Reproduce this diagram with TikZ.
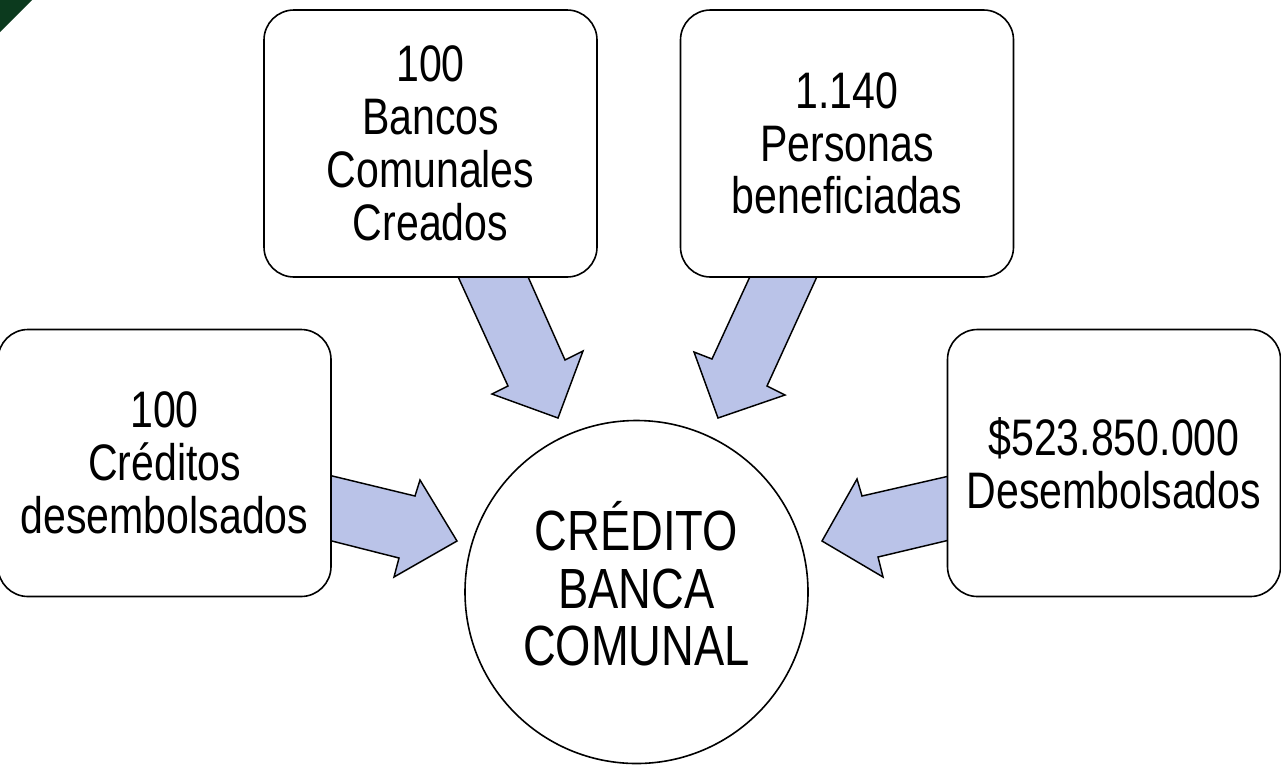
\documentclass[tikz,border=0pt]{standalone}
\usepackage{fontspec}
\setmainfont[FakeStretch=0.8]{Liberation Sans}
\definecolor{arrowfill}{RGB}{186,195,232}
\definecolor{cornergreen}{RGB}{12,58,30}
\tikzset{
  infobox/.style={draw=black, line width=1.2pt, fill=white, rounded corners=22.5pt,
    minimum width=249.75pt, minimum height=200.25pt, inner sep=0pt, outer sep=0pt,
    align=center, font=\fontsize{38.5}{39.6}\selectfont},
  hub/.style={draw=black, line width=1.2pt, fill=white, circle, minimum size=257.25pt,
    inner sep=0pt, outer sep=0pt},
  hubtext/.style={align=center, inner sep=0pt, font=\fontsize{42.5}{43}\selectfont},
  blockarrow/.style={draw=black, line width=1.1pt, fill=arrowfill, line join=miter}
}
\begin{document}
\begin{tikzpicture}[x=0.75pt,y=-0.75pt]
\useasboundingbox (0,0) rectangle (1281,765);
\fill[cornergreen] (0,0) -- (32,0) -- (0,32) -- cycle;
% block arrows (drawn first, boxes on top)
\draw[blockarrow] (455,270) -- (508,386) -- (492,394) -- (558,418) -- (583,351) -- (565,360) -- (525,270) -- cycle;
\draw[blockarrow] (753,270) -- (712,359) -- (694,352) -- (718,418) -- (785,395) -- (767,386) -- (820,270) -- cycle;
\draw[blockarrow] (320,473) -- (415,496) -- (420,480) -- (457,541) -- (394,577) -- (399,558) -- (320,538) -- cycle;
\draw[blockarrow] (958,474) -- (862,496) -- (857,479) -- (822,541) -- (883,577) -- (878,557) -- (958,538) -- cycle;
% boxes
\node[infobox] (banks) at (430.5,143.5) {100\\Bancos\\Comunales\\Creados};
\node[infobox] (people) at (847,143.5) {1.140\\Personas\\beneficiadas};
\node[infobox] (credits) at (164.5,463) {100\\Créditos\\desembolsados};
\node[infobox] (money) at (1114,463) {\$523.850.000\\Desembolsados};
\node[hub] (hubc) at (636.5,592) {};
\node[hubtext] (hublabel) at ([yshift=6pt]hubc.center) {CRÉDITO\\BANCA\\COMUNAL};
\end{tikzpicture}
\end{document}
